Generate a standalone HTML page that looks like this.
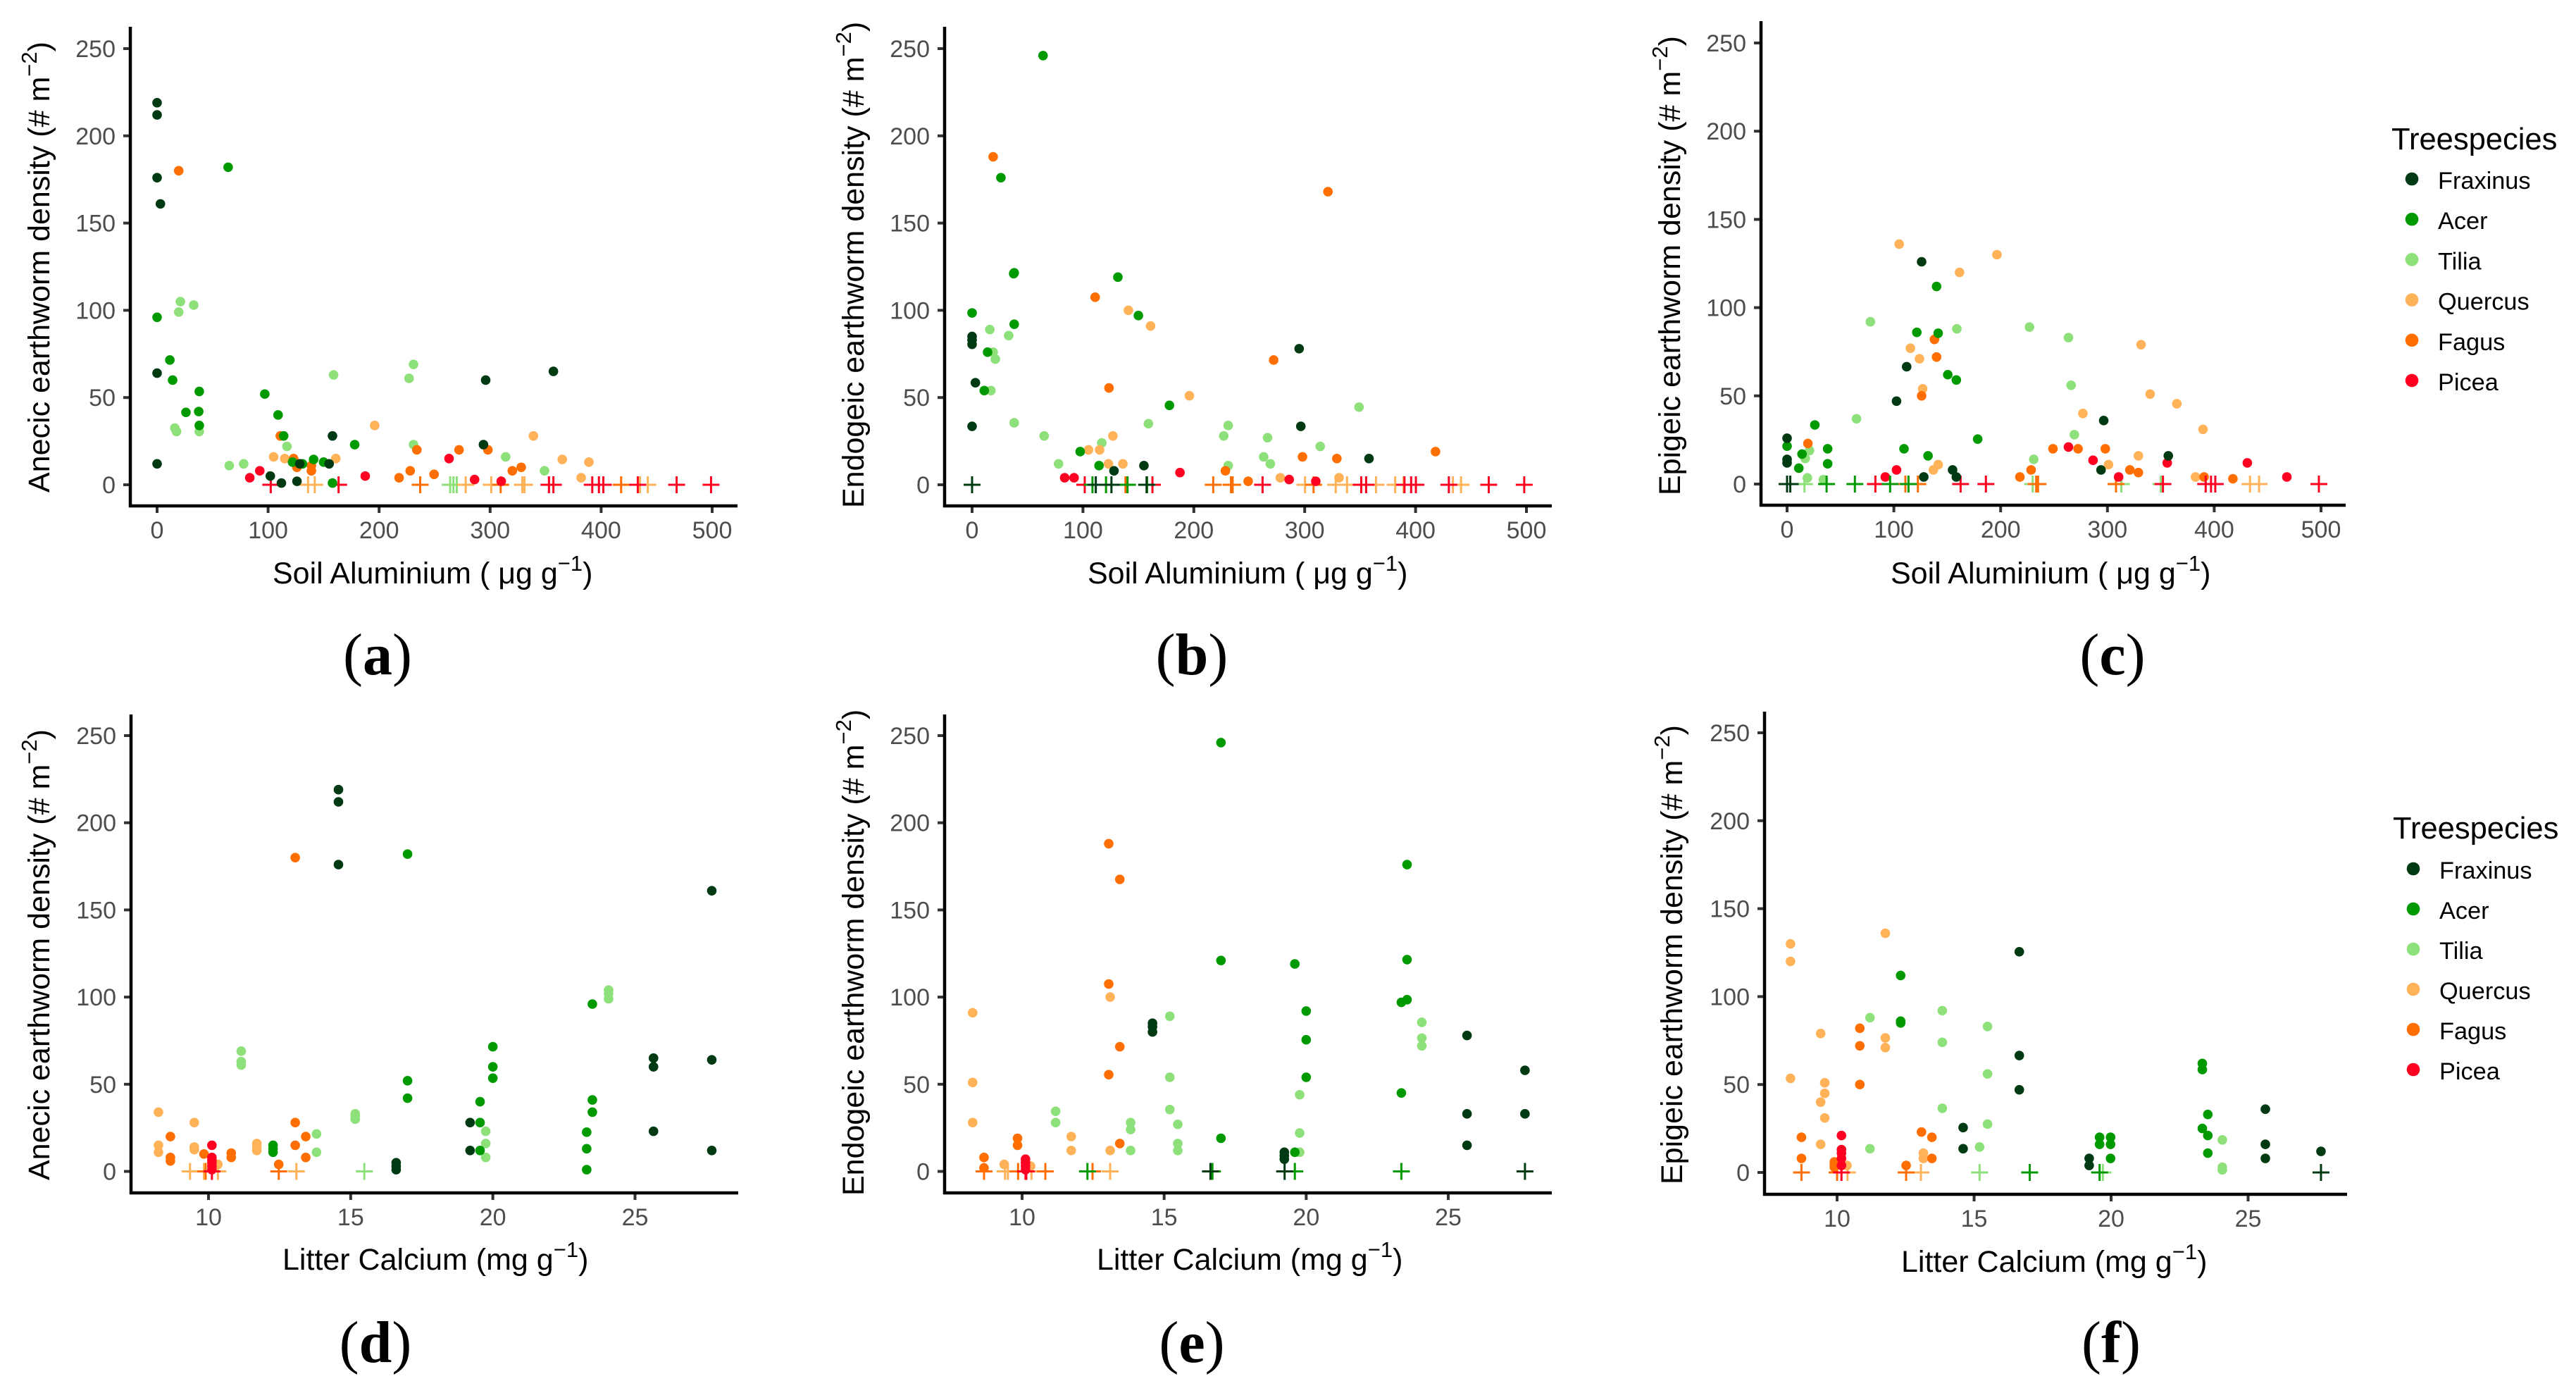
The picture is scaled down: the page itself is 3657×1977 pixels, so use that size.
<!DOCTYPE html>
<html lang="en">
<head>
<meta charset="utf-8">
<title>Earthworm density vs soil aluminium and litter calcium</title>
<style>
html,body{margin:0;padding:0;background:#fff;}
svg{display:block;font-family:"Liberation Sans",sans-serif;}
</style>
</head>
<body>
<svg id="figure" xmlns="http://www.w3.org/2000/svg" width="3657" height="1977" viewBox="0 0 3657 1977">
<rect width="3657" height="1977" fill="#ffffff"/>
</svg>
<script>
const speciesNames = ['Fraxinus','Acer','Tilia','Quercus','Fagus','Picea'];
const speciesColors = ['#003a12','#009a00','#8ee07a','#ffb257','#ff6e00','#ff0022'];
const yTickLabels = [0,50,100,150,200,250];
const alTickLabels = [0,100,200,300,400,500];
const caTickLabels = [10,15,20,25];

/* Panel a: soil aluminium vs anecic density */
const aFraxinusX = [0,0,0,3,0,0,102,112,126,128.5,155,158,294,296,357];
const aFraxinusY = [219,212,176,161,64,12,5,1,2,12,12,28,23,60,65];
const aAcerX = [64,0,11.5,14,38,37.5,26,38,97,109,114,178,141,150,131,122,158];
const aAcerY = [182,96,71.5,60,53.5,42,41.5,34,52,40,28,23,14.5,13,12,13,1];
const aTiliaX = [21,19.5,33,16,17.5,38,65,78,117,159,227,231,231,314,349,264,267,270];
const aTiliaY = [105,99,103,32.5,30.5,30.5,11,12,22,63,61,69,23,16,8,0,0,0];
const aQuercusX = [105,115,122,126,161,196,339,365,389,382,136,142,278,301,329,331,435,442];
const aQuercusY = [16,15,13,10,15,34,28,14.5,13,4,0,0,0,0,0,0,0,0];
const aFagusX = [19.5,111,123,126,139,139,234,272,298,218,228,249.5,320,328,237,309.5,418];
const aFagusY = [180,28,15,10,11,8,20,20,20,4,8,6,8,10,0,0,0];
const aPiceaX = [83.5,92.5,187.5,263,286,310,102.4,163.5,353,357,392,398,402,433,468,499];
const aPiceaY = [4,8,5,15,3,2,0,0,0,0,0,0,0,0,0,0];

/* Panel b: soil aluminium vs endogeic density */
const bFraxinusX = [0,0,0,3,0,295,296.5,358,128,155,0,111.6,125.7,157.4];
const bFraxinusY = [85,83,80.5,58.5,33.5,78,33.5,15,8,11,0,0,0,0];
const bAcerX = [64,26,38,37.5,131.5,0,38,150,14,11,178,97.5,114.5,0,108.6,120.8,140.2,157.8];
const bAcerY = [246,176,121.5,121,119,98.5,92,97,76,54,45.5,19,11,0,0,0,0,0];
const bTiliaX = [16,33,19,21,17,38,65,78,117,159,231,227,266.5,263,269,231,314,349];
const bTiliaY = [89,85.5,76,72,54,35.5,28,12,24,35,34,28,27,16,12,11,22,44.5];
const bQuercusX = [141,161,196,127,105,115,123,136,278,331,138.4,300.3,328,338.2,364.3,381.6,389.2,433.7,441];
const bQuercusY = [100,91,51,28,20,20,12,12,4,4,0,0,0,0,0,0,0,0,0];
const bFagusX = [19,111,321,272,123.5,418,298,329,228.5,249,138.4,217.5,233.5,235,308];
const bFagusY = [188,107.5,168,71.5,55.5,19,16,15,8,2,0,0,0,0,0];
const bPiceaX = [83.5,92,187.5,286,310,101.6,162.7,262,351,355.4,390,396,400.3,430,466,498];
const bPiceaY = [4,4,7,3,2,0,0,0,0,0,0,0,0,0,0,0];

/* Panel c: soil aluminium vs epigeic density */
const cFraxinusX = [0,0,0,126,112,102.5,128,155,158.5,296.5,294,357,0,3];
const cFraxinusY = [26,14,12,126,66.5,47,4,8,4,36,8,16,0,0];
const cAcerX = [121.5,141.5,140,150.5,158.5,26,0,38,38,14,11,109.5,132,178.5,37,63.5,96.5,113.7];
const cAcerY = [86,85.5,112,62,59,33.5,21.5,20,11.5,17,9,20,16,25.5,0,0,0,0];
const cTiliaX = [78,159,227,263.5,266,269,65,231,21,17,19,34,16.3,230,313,350];
const cTiliaY = [92,88,89,83,56,28,37,14,19,14.5,3.5,2.5,0,0,0,0];
const cQuercusX = [105,196.5,161.5,115.5,124,127,331.5,340,365,277,389.5,329,301,141.5,137,382.5,433.5,442];
const cQuercusY = [136,130,120,77,71,54,79,51,45.5,40,31,16,11,11,8,4,0,0];
const cFagusX = [19.5,138,140,126,249,272.5,298,321,329,228.5,218,390.5,417.5,110.8,122.5,233.3,235,308];
const cFagusY = [23,82,72,50,20,20,20,8,6.5,8,4,4,3,0,0,0,0,0];
const cPiceaX = [263.5,286.5,310.5,356,431,468,92,102.5,82.7,162.5,186.2,352,392,397,401,498];
const cPiceaY = [21,13.5,4,12,12,4,4,8,0,0,0,0,0,0,0,0];

/* Panel d: litter calcium vs anecic density */
const dFraxinusX = [14.57,14.57,14.57,27.7,27.7,27.7,25.65,25.65,25.65,19.2,19.2,16.6,16.6,16.6];
const dFraxinusY = [219,212,176,161,64,12,65,60,23,28,12,5,3,1];
const dAcerX = [17,17,17,20,20,20,19.55,19.55,19.55,23.5,23.5,23.5,23.3,23.3,23.3,12.27,12.27,12.27];
const dAcerY = [182,52,42,71.5,60,53.5,40,28,12,96,41,34,22.5,13,1,15,13,11];
const dTiliaX = [11.15,11.15,11.15,24.07,24.07,24.07,15.16,15.16,15.16,13.8,13.8,19.75,19.75,19.75,15.48];
const dTiliaY = [69,63,61,104,102,99,33,31.5,30,21.5,11,23,16,8,0];
const dQuercusX = [8.24,8.24,8.24,9.5,9.5,9.5,11.7,11.7,11.7,10.33,9.35,9.84,10.33,13.09];
const dQuercusY = [34,15,11,28,14,12.5,16,14,12,4,0,0,0,0];
const dFagusX = [13.05,13.05,13.05,13.42,13.42,12.47,8.66,8.66,8.66,9.84,10.8,10.8,12.47,9.9];
const dFagusY = [180,28,15,20,8,4,20,8,6,10,10.5,8,0,0];
const dPiceaX = [10.12,10.12,10.12,10.12,10.12,10.12,10.12];
const dPiceaY = [15,8,6.5,5,3,1,0];

/* Panel e: litter calcium vs endogeic density */
const eFraxinusX = [14.59,14.59,14.59,25.66,25.66,25.66,27.7,27.7,19.23,19.23,19.23,16.63,19.24,27.7];
const eFraxinusY = [85,83,80,78,33,15,58,33,11,9,7,0,0,0];
const eAcerX = [17,17,17,19.6,20,20,20,23.55,23.55,23.55,23.35,23.35,19.6,12.3,16.7,19.6,23.35];
const eAcerY = [246,121,19,119,92,75.5,54,176,121.5,98.5,97,45,11,0,0,0,0];
const eTiliaX = [15.2,15.2,15.2,15.48,15.48,15.48,13.82,13.82,13.82,11.18,11.18,24.07,24.07,24.07,19.77,19.77,19.77];
const eTiliaY = [89,54,35.5,27,16,12,28,24,12,34.5,28,85.5,76.5,72,44,22,11];
const eQuercusX = [8.26,8.26,8.26,13.1,13.1,11.73,11.73,9.37,10.3,9.4,9.5,10.33,13.1];
const eQuercusY = [91,51,28,100,12,20,12,4,3,0,0,0,0];
const eFagusX = [13.05,13.44,13.05,13.44,13.05,13.44,9.84,9.84,8.66,8.66,8.66,9.86,10.82,12.48];
const eFagusY = [188,167.5,107.5,71.5,55.5,16,19,15,8,2,0,0,0,0];
const ePiceaX = [10.12,10.12,10.12,10.12,10.12,10.15];
const ePiceaY = [7,5,3,1,0,0];

/* Panel f: litter calcium vs epigeic density */
const fFraxinusX = [16.65,16.65,16.65,14.6,14.6,25.63,25.63,25.63,27.66,19.2,19.2,27.66];
const fFraxinusY = [125.5,66.5,47,25.5,13.5,36,16,8,12,8,4,0];
const fAcerX = [12.32,12.32,12.32,23.33,23.33,23.53,23.33,23.53,23.53,19.58,19.58,19.98,19.98,19.98,17.03,19.58];
const fAcerY = [112,86,85,62,58.5,33,25,21,11,20,16,20,16,8,0,0];
const fTiliaX = [11.2,13.84,13.84,13.84,15.49,15.49,15.49,15.2,11.2,24.06,24.06,24.06,15.2,19.7];
const fTiliaY = [88,92,74,36.5,83,56,27.5,14.5,13.5,18.5,3,1.5,0,0];
const fQuercusX = [8.3,8.3,8.3,9.4,9.55,9.55,9.4,9.55,9.4,11.76,11.76,11.76,13.15,13.15,10.36,10.38,13.06];
const fQuercusY = [130,120,53.5,79,51,45,40,31,16,136,76.5,71,11,8,4,0,0];
const fFagusX = [10.83,10.83,10.83,8.7,8.7,13.08,13.46,13.46,12.52,9.9,9.9,9.9,8.7,12.52,10];
const fFagusY = [82,72,50,20,8,23,20,8,4,6,4.5,3,0,0,0];
const fPiceaX = [10.16,10.16,10.16,10.16,10.16,10.16];
const fPiceaY = [21,13,11,8,4,0];

const NS = 'http://www.w3.org/2000/svg';
const figure = document.getElementById('figure');
const drawOrder = [2,3,4,5,1,0];

function make(tag, attrs, parent) {
  const node = document.createElementNS(NS, tag);
  for (const key in attrs) node.setAttribute(key, attrs[key]);
  (parent || figure).appendChild(node);
  return node;
}
function linear(d0, d1, r0, r1) {
  return function (v) { return r0 + (v - d0) * (r1 - r0) / (d1 - d0); };
}
function addTitleText(node, main, sup, tail) {
  const a = make('tspan', {}, node);
  a.textContent = main;
  const b = make('tspan', {dy: -18, 'font-size': 31}, node);
  b.textContent = sup;
  const c = make('tspan', {dy: 18}, node);
  c.textContent = tail;
}

const panels = [
 {id:'a', yName:'Anecic', xMain:'Soil Aluminium ( \u03bcg g', xTicks:alTickLabels, d0:0, d1:500, r0:223, r1:1011,
  axisX:185, axisY:718, top:38, right:1047, y0:688, y250:69, xT:387, xB:828, yB:70, yS:699,
  s:[[aFraxinusX,aFraxinusY],[aAcerX,aAcerY],[aTiliaX,aTiliaY],[aQuercusX,aQuercusY],[aFagusX,aFagusY],[aPiceaX,aPiceaY]]},
 {id:'b', yName:'Endogeic', xMain:'Soil Aluminium ( \u03bcg g', xTicks:alTickLabels, d0:0, d1:500, r0:1380, r1:2167,
  axisX:1341, axisY:718, top:38, right:2203, y0:688, y250:69, xT:1544, xB:828, yB:1226, yS:721,
  s:[[bFraxinusX,bFraxinusY],[bAcerX,bAcerY],[bTiliaX,bTiliaY],[bQuercusX,bQuercusY],[bFagusX,bFagusY],[bPiceaX,bPiceaY]]},
 {id:'c', yName:'Epigeic', xMain:'Soil Aluminium ( \u03bcg g', xTicks:alTickLabels, d0:0, d1:500, r0:2537, r1:3295,
  axisX:2500, axisY:717, top:30, right:3330, y0:687, y250:61, xT:2684, xB:828, yB:2385, yS:703,
  s:[[cFraxinusX,cFraxinusY],[cAcerX,cAcerY],[cTiliaX,cTiliaY],[cQuercusX,cQuercusY],[cFagusX,cFagusY],[cPiceaX,cPiceaY]]},
 {id:'d', yName:'Anecic', xMain:'Litter Calcium (mg g', xTicks:caTickLabels, d0:10, d1:25, r0:296, r1:901.5,
  axisX:186, axisY:1693, top:1014, right:1048, y0:1662.5, y250:1044, xT:401, xB:1802, yB:70, yS:1675,
  s:[[dFraxinusX,dFraxinusY],[dAcerX,dAcerY],[dTiliaX,dTiliaY],[dQuercusX,dQuercusY],[dFagusX,dFagusY],[dPiceaX,dPiceaY]]},
 {id:'e', yName:'Endogeic', xMain:'Litter Calcium (mg g', xTicks:caTickLabels, d0:10, d1:25, r0:1451, r1:2056,
  axisX:1341, axisY:1693, top:1014, right:2203, y0:1662.5, y250:1044, xT:1557, xB:1802, yB:1226, yS:1697,
  s:[[eFraxinusX,eFraxinusY],[eAcerX,eAcerY],[eTiliaX,eTiliaY],[eQuercusX,eQuercusY],[eFagusX,eFagusY],[ePiceaX,ePiceaY]]},
 {id:'f', yName:'Epigeic', xMain:'Litter Calcium (mg g', xTicks:caTickLabels, d0:10, d1:25, r0:2608, r1:3191.5,
  axisX:2505, axisY:1695, top:1010, right:3332, y0:1664, y250:1040, xT:2699, xB:1805, yB:2388, yS:1681,
  s:[[fFraxinusX,fFraxinusY],[fAcerX,fAcerY],[fTiliaX,fTiliaY],[fQuercusX,fQuercusY],[fFagusX,fFagusY],[fPiceaX,fPiceaY]]}
];

panels.forEach(function (p) {
  const g = make('g', {});
  
  
  const xScale = linear(p.d0, p.d1, p.r0, p.r1);
  const yScale = linear(0, 250, p.y0, p.y250);

  p.xTicks.forEach(function (t) {
    const x = xScale(t);
    const tick = make('line', {x1:x, x2:x, y1:p.axisY, y2:p.axisY + 10, stroke:'#333333', 'stroke-width':4}, g);
    
    
    const label = make('text', {x:x, y:p.axisY + 46, 'text-anchor':'middle', 'font-size':34, fill:'#4d4d4d'}, g);
    label.textContent = t;
    
    
  });
  yTickLabels.forEach(function (t) {
    const y = yScale(t);
    const tick = make('line', {x1:p.axisX - 10, x2:p.axisX, y1:y, y2:y, stroke:'#333333', 'stroke-width':4}, g);
    
    
    const label = make('text', {x:p.axisX - 21, y:y + 12, 'text-anchor':'end', 'font-size':34, fill:'#4d4d4d'}, g);
    label.textContent = t;
    
    
  });

  const yLine = make('line', {x1:p.axisX, x2:p.axisX, y1:p.top, y2:p.axisY + 2, stroke:'#000000', 'stroke-width':4.5}, g);
  
  
  const xLine = make('line', {x1:p.axisX - 2, x2:p.right, y1:p.axisY, y2:p.axisY, stroke:'#000000', 'stroke-width':4.5}, g);
  
  

  const xTitle = make('text', {x:p.xT, y:p.xB, 'font-size':43, fill:'#000000'}, g);
  addTitleText(xTitle, p.xMain, '\u22121', ')');
  
  
  const yTitle = make('text', {transform:'translate(' + p.yB + ',' + p.yS + ') rotate(-90)', 'font-size':43, fill:'#000000'}, g);
  addTitleText(yTitle, p.yName + ' earthworm density (# m', '\u22122', ')');
  
  

  drawOrder.forEach(function (k) {
    const xs = p.s[k][0];
    const ys = p.s[k][1];
    xs.forEach(function (v, i) {
      const cx = xScale(v);
      const cy = yScale(ys[i]);
      if (ys[i] === 0) {
        const plus = make('path', {d:'M' + (cx - 12) + ' ' + cy + 'H' + (cx + 12) + 'M' + cx + ' ' + (cy - 12) + 'V' + (cy + 12), stroke:speciesColors[k], 'stroke-width':3, fill:'none'}, g);
        
        
      } else {
        const dot = make('circle', {cx:cx, cy:cy, r:6.8, fill:speciesColors[k]}, g);
        
        
      }
    });
  });
});

const legendLayouts = [
  {titleX:3395, titleY:212, dotX:3424, labelX:3461, firstY:254, stepY:57.2},
  {titleX:3397, titleY:1190, dotX:3426, labelX:3463, firstY:1233, stepY:57}
];
legendLayouts.forEach(function (l, n) {
  const g = make('g', {});
  
  
  const title = make('text', {x:l.titleX, y:l.titleY, 'font-size':43.5, fill:'#000000'}, g);
  title.textContent = 'Treespecies';
  
  
  speciesNames.forEach(function (name, i) {
    const y = l.firstY + i * l.stepY;
    const dot = make('circle', {cx:l.dotX, cy:y, r:9.3, fill:speciesColors[i]}, g);
    
    
    const label = make('text', {x:l.labelX, y:y + 14, 'font-size':34.3, fill:'#000000'}, g);
    label.textContent = name;
    
    
  });
});

const letterLayouts = [['a',536,957],['b',1692,957],['c',2999,957],['d',533,1933],['e',1692,1933],['f',2997,1933]];
letterLayouts.forEach(function (l) {
  const t = make('text', {x:l[1], y:l[2], 'text-anchor':'middle', 'font-size':84, 'font-family':'"Liberation Serif",serif', fill:'#000000'});
  const o = make('tspan', {}, t);
  o.textContent = '(';
  const m = make('tspan', {'font-weight':'bold'}, t);
  m.textContent = l[0];
  const c = make('tspan', {}, t);
  c.textContent = ')';
  
  
});
</script>
</body>
</html>
